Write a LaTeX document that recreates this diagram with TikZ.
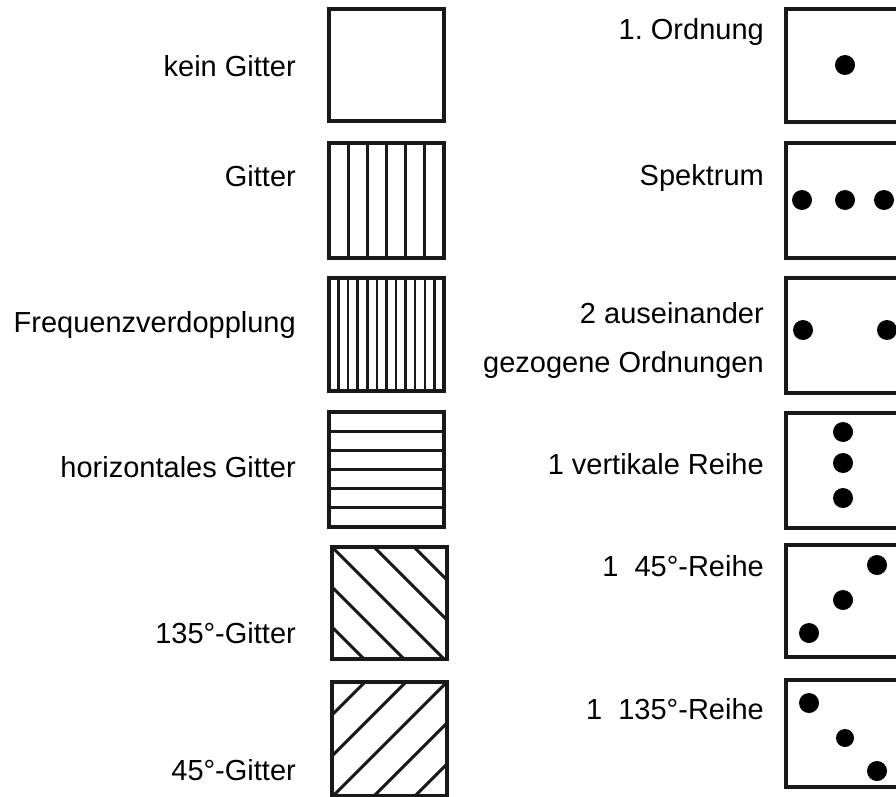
\documentclass[tikz,border=0pt]{standalone}
\usepackage{fontspec}
\setmainfont{Liberation Sans}
\begin{document}
\frenchspacing
\begin{tikzpicture}[x=1pt,y=-1pt,
  lbl/.style={anchor=base east,inner sep=0pt,font=\fontsize{29}{34}\selectfont},
  frame/.style={line width=3.3pt,draw=black!90},
  stripe/.style={line width=3pt,draw=black!90},
  fine/.style={line width=2.5pt,draw=black!90},
  spot/.style={fill=black}]
\useasboundingbox (0,0) rectangle (896,797);
\clip (0,0) rectangle (896,797);
% ---------- left labels ----------
\node[lbl] (t1) at (296,77) {kein Gitter};
\node[lbl] (t2) at (296,186) {Gitter};
\node[lbl] (t3) at (296,332) {Frequenzverdopplung};
\node[lbl] (t4) at (296,477) {horizontales Gitter};
\node[lbl] (t5) at (296,643) {135°-Gitter};
\node[lbl] (t6) at (296,780) {45°-Gitter};
% ---------- right labels ----------
\node[lbl] (r1) at (764,40) {1. Ordnung};
\node[lbl] (r2) at (764,185) {Spektrum};
\node[lbl] (r3a) at (764,323) {2 auseinander};
\node[lbl] (r3b) at (764,372) {gezogene Ordnungen};
\node[lbl] (r4) at (764,474) {1 vertikale Reihe};
\node[lbl] (r5) at (764,576) {1\ \ 45°-Reihe};
\node[lbl] (r6) at (764,719) {1\ \ 135°-Reihe};
% ---------- left boxes ----------
% 1: empty
\draw[frame] (329,9) rectangle (444,121);
% 2: vertical grating
\foreach \k in {1,...,5} \draw[stripe] (329+19.17*\k,143) -- (329+19.17*\k,258);
\draw[frame] (329,143) rectangle (444,258);
% 3: frequency doubling
\foreach \k in {1,...,11} \draw[fine] (329+9.58*\k,278) -- (329+9.58*\k,391);
\draw[frame] (329,278) rectangle (444,391);
% 4: horizontal grating
\foreach \k in {1,...,5} \draw[stripe] (329,412+19.17*\k) -- (444,412+19.17*\k);
\draw[frame] (329,412) rectangle (444,527);
% 5: 135 degree grating
\begin{scope}
  \clip (332,547) rectangle (447,659);
  \foreach \c in {-80,-40,0,42,82} \draw[stripe] (332+\c-20,547-20) -- (332+\c+140,547+140);
\end{scope}
\draw[frame] (332,547) rectangle (447,659);
% 6: 45 degree grating
\begin{scope}
  \clip (332,682) rectangle (447,796);
  \foreach \c in {33,74,115,156,197} \draw[stripe] (332+\c+20,682-20) -- (332+\c-160,682+160);
\end{scope}
\draw[frame] (332,682) rectangle (447,796);
% ---------- right boxes ----------
\draw[frame] (786,9) rectangle (905,122);
\draw[frame] (786,143) rectangle (905,258);
\draw[frame] (786,278) rectangle (905,393);
\draw[frame] (786,413) rectangle (905,528);
\draw[frame] (786,545) rectangle (905,657);
\draw[frame] (786,680) rectangle (905,787);
% dots
\fill[spot] (845,65) circle (10);
\fill[spot] (802,200) circle (10);
\fill[spot] (845,200) circle (10);
\fill[spot] (884,200) circle (10);
\fill[spot] (803,330) circle (10);
\fill[spot] (887,330) circle (10);
\fill[spot] (843,432) circle (10);
\fill[spot] (843,463) circle (10);
\fill[spot] (843,498) circle (10);
\fill[spot] (809,633) circle (10);
\fill[spot] (843,600) circle (10);
\fill[spot] (877,565) circle (10);
\fill[spot] (809,703) circle (10);
\fill[spot] (845,738) circle (9);
\fill[spot] (877,771) circle (10);
\end{tikzpicture}
\end{document}
